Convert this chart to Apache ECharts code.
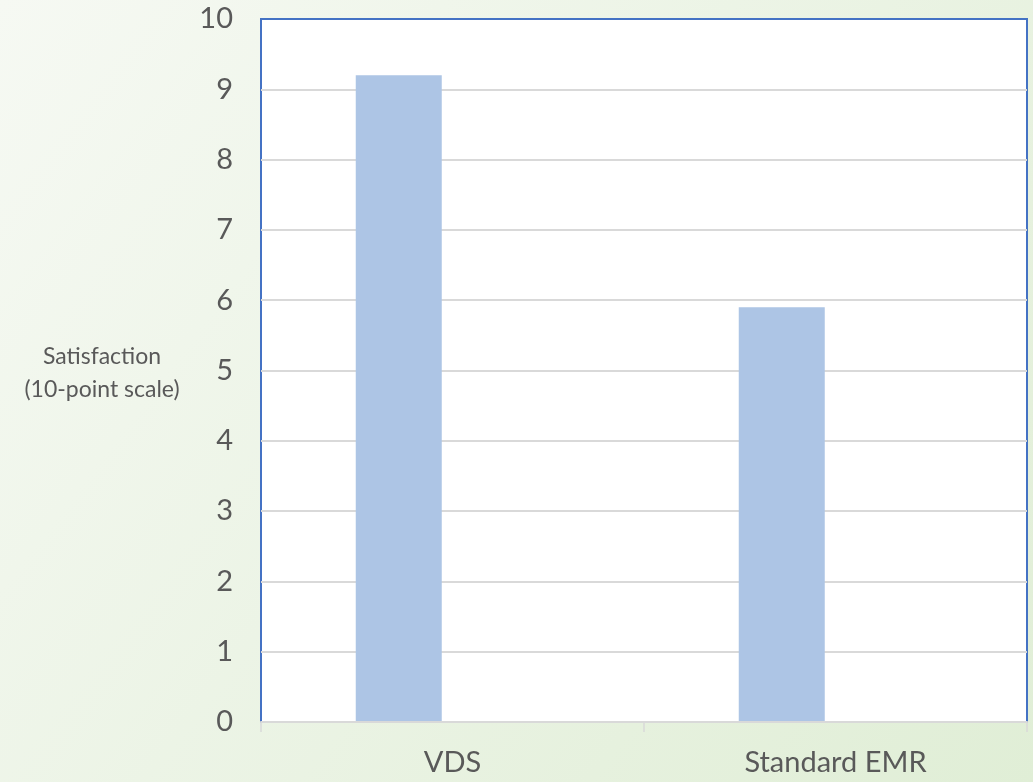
<!DOCTYPE html>
<html>
<head>
<meta charset="utf-8">
<script src="https://cdn.jsdelivr.net/npm/echarts@6/dist/echarts.min.js"></script>
<style>
html,body{margin:0;padding:0;}
#c{width:1033px;height:782px;}
</style>
</head>
<body>
<div id="c"></div>
<script>
const categories = ['VDS', 'Standard EMR'];
const satisfaction = [9.2, 5.9];
const spacer = [null, null];
const yTicks = [0, 1, 2, 3, 4, 5, 6, 7, 8, 9, 10];
const yAxisTitle = 'Satisfaction\n(10-point scale)';

const FONT = 'Lato, "Open Sans", sans-serif';
const chart = echarts.init(document.getElementById('c'));
chart.setOption({
  animation: false,
  backgroundColor: {
    type: 'linear', x: 0, y: 0, x2: 1, y2: 1,
    colorStops: [
      { offset: 0, color: '#f6f9f3' },
      { offset: 1, color: '#e0eed6' }
    ]
  },
  grid: {
    left: 261, top: 19, right: 6, bottom: 60,
    show: true, backgroundColor: '#ffffff',
    borderColor: '#4472C4', borderWidth: 2
  },
  graphic: [{
    type: 'text', x: 102, y: 340,
    style: {
      text: yAxisTitle, fill: '#595959', font: '23px ' + FONT,
      align: 'center', verticalAlign: 'top', lineHeight: 33
    }
  }],
  xAxis: {
    type: 'category', data: categories,
    axisLine: { show: true, lineStyle: { color: '#d9d9d9', width: 2 } },
    axisTick: { show: true, length: 10, lineStyle: { color: '#d9d9d9', width: 1.5 } },
    axisLabel: { color: '#595959', fontSize: 29, fontFamily: FONT, margin: 26 },
    z: 5
  },
  yAxis: {
    type: 'value', min: yTicks[0], max: yTicks[yTicks.length - 1], interval: 1,
    axisLine: { show: false }, axisTick: { show: false },
    splitLine: { showMaxLine: false, lineStyle: { color: '#d9d9d9', width: 2 } },
    axisLabel: { color: '#595959', fontSize: 29, fontFamily: FONT, margin: 28 }
  },
  series: [
    { type: 'bar', data: satisfaction, barWidth: 86, barGap: '25%', itemStyle: { color: '#adc5e5' } },
    { type: 'bar', data: spacer, barWidth: 86, itemStyle: { color: 'transparent' } }
  ]
});
</script>
</body>
</html>
